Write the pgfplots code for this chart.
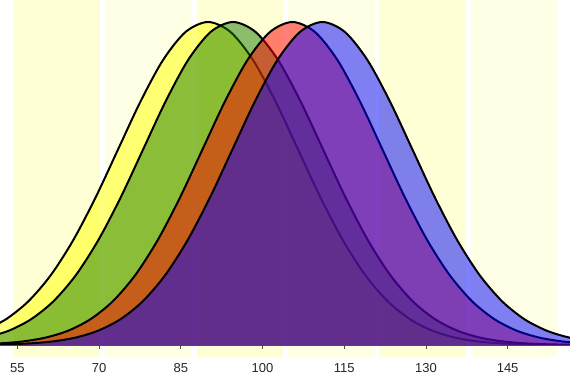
\documentclass[border=0pt]{standalone}
\usepackage{fontspec}
\setmainfont{Liberation Sans}
\usepackage{pgfplots}
\usepackage{pgfplotstable}
\pgfplotsset{compat=1.18}
\definecolor{bandA}{RGB}{255,255,213}
\definecolor{bandB}{RGB}{255,255,230}
\definecolor{cyel}{RGB}{255,255,0}
\definecolor{cgre}{RGB}{25,125,0}
\definecolor{cred}{RGB}{255,0,0}
\definecolor{cblu}{RGB}{0,0,255}
\pgfplotstableread{
x y
48.77 0.0439
52.90 0.0796
57.02 0.1353
61.14 0.2163
65.26 0.3247
69.39 0.4578
73.51 0.6065
77.63 0.7548
81.75 0.8825
85.88 0.9692
90.00 1
94.12 0.9692
98.25 0.8825
102.37 0.7548
106.49 0.6065
110.61 0.4578
114.74 0.3247
118.86 0.2163
122.98 0.1353
127.10 0.0796
131.23 0.0439
135.35 0.0228
139.47 0.0111
143.59 0.0051
147.72 0.0022
151.84 0.0009
155.96 0.0003
160.08 0.0001
}\yellowdata
\pgfplotstableread{
x y
49.25 0.0228
53.37 0.0439
57.50 0.0796
61.62 0.1353
65.74 0.2163
69.86 0.3247
73.99 0.4578
78.11 0.6065
82.23 0.7548
86.35 0.8825
90.48 0.9692
94.60 1
98.72 0.9692
102.85 0.8825
106.97 0.7548
111.09 0.6065
115.21 0.4578
119.34 0.3247
123.46 0.2163
127.58 0.1353
131.70 0.0796
135.83 0.0439
139.95 0.0228
144.07 0.0111
148.19 0.0051
152.32 0.0022
156.44 0.0009
160.56 0.0003
}\greendata
\pgfplotstableread{
x y
47.78 0.0022
51.91 0.0051
56.03 0.0111
60.15 0.0228
64.27 0.0439
68.40 0.0796
72.52 0.1353
76.64 0.2163
80.76 0.3247
84.89 0.4578
89.01 0.6065
93.13 0.7548
97.25 0.8825
101.38 0.9692
105.50 1
109.62 0.9692
113.75 0.8825
117.87 0.7548
121.99 0.6065
126.11 0.4578
130.24 0.3247
134.36 0.2163
138.48 0.1353
142.60 0.0796
146.73 0.0439
150.85 0.0228
154.97 0.0111
159.09 0.0051
}\reddata
\pgfplotstableread{
x y
49.16 0.0009
53.28 0.0022
57.41 0.0051
61.53 0.0111
65.65 0.0228
69.77 0.0439
73.90 0.0796
78.02 0.1353
82.14 0.2163
86.26 0.3247
90.39 0.4578
94.51 0.6065
98.63 0.7548
102.75 0.8825
106.88 0.9692
111.00 1
115.12 0.9692
119.25 0.8825
123.37 0.7548
127.49 0.6065
131.61 0.4578
135.74 0.3247
139.86 0.2163
143.98 0.1353
148.10 0.0796
152.23 0.0439
156.35 0.0228
160.47 0.0111
}\bluedata
\begin{document}
\begin{tikzpicture}
\begin{axis}[
 scale only axis, width=570pt, height=357pt,
 xmin=51.81, xmax=156.45, ymin=-0.0372, ymax=1.0681,
 axis x line=middle, axis y line=none,
 axis on top=true,
 axis line style={-, draw=gray!60!black, line width=0.8pt},
 xtick={55,70,85,100,115,130,145},
 tick align=outside, major tick length=4pt,
 tick style={draw=gray!60!black, line width=0.8pt},
 xticklabel style={font=\fontsize{13}{15}\selectfont, text=black!85, yshift=-11pt},
 /pgf/number format/assume math mode=true,
 clip=true,
]
% background bands
\addplot[fill=bandA, draw=none] coordinates {(54.33,-0.0372) (54.33,1.1) (70.23,1.1) (70.23,-0.0372)} -- cycle;
\addplot[fill=bandB, draw=none] coordinates {(71.11,-0.0372) (71.11,1.1) (87.01,1.1) (87.01,-0.0372)} -- cycle;
\addplot[fill=bandA, draw=none] coordinates {(87.89,-0.0372) (87.89,1.1) (103.79,1.1) (103.79,-0.0372)} -- cycle;
\addplot[fill=bandB, draw=none] coordinates {(104.67,-0.0372) (104.67,1.1) (120.57,1.1) (120.57,-0.0372)} -- cycle;
\addplot[fill=bandA, draw=none] coordinates {(121.45,-0.0372) (121.45,1.1) (137.35,1.1) (137.35,-0.0372)} -- cycle;
\addplot[fill=bandB, draw=none] coordinates {(138.23,-0.0372) (138.23,1.1) (154.13,1.1) (154.13,-0.0372)} -- cycle;
% curves
\addplot[smooth, fill=cyel, fill opacity=0.5, draw=none] table {\yellowdata} \closedcycle;
\addplot[smooth, black, line width=2pt, line join=round] table {\yellowdata};
\addplot[smooth, fill=cgre, fill opacity=0.5, draw=none] table {\greendata} \closedcycle;
\addplot[smooth, black, line width=2pt, line join=round] table {\greendata};
\addplot[smooth, fill=cred, fill opacity=0.5, draw=none] table {\reddata} \closedcycle;
\addplot[smooth, black, line width=2pt, line join=round] table {\reddata};
\addplot[smooth, fill=cblu, fill opacity=0.5, draw=none] table {\bluedata} \closedcycle;
\addplot[smooth, black, line width=2pt, line join=round] table {\bluedata};
\coordinate (bl) at (axis cs:51.81,-0.0372);
\coordinate (tr) at (axis cs:156.45,1.0681);
\end{axis}
\pgfresetboundingbox
\path[use as bounding box] (bl) ++(0,-18pt) rectangle (tr);
\end{tikzpicture}
\end{document}
